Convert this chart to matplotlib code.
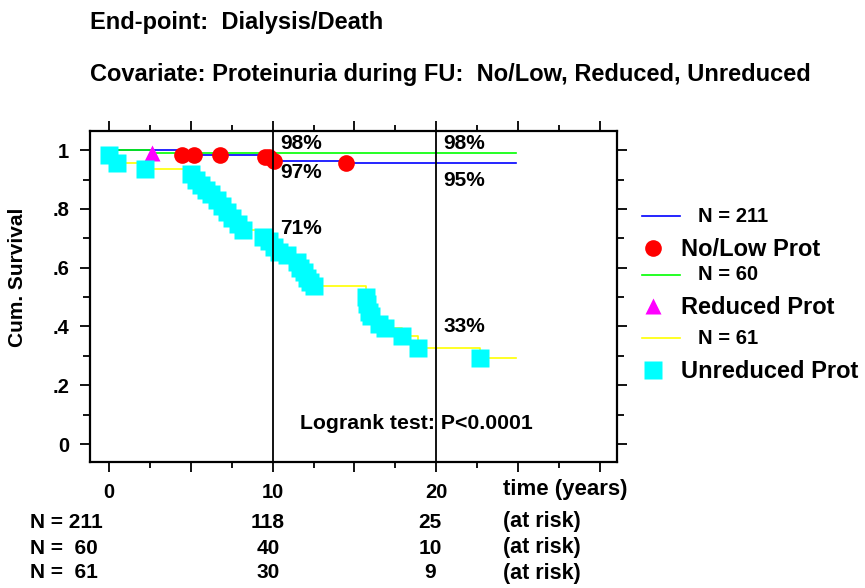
import numpy as np
import matplotlib
matplotlib.use("Agg")
import matplotlib.pyplot as plt
from matplotlib.lines import Line2D

plt.rcParams['font.family'] = ['Liberation Sans', 'DejaVu Sans']
plt.rcParams['font.weight'] = 'bold'

# Kaplan-Meier curves (time in years, cumulative survival)
nolow_t = [0.5, 4.4, 9.5, 10.1, 14.4, 24.9]
nolow_s = [1.0, 0.985, 0.975, 0.962, 0.955, 0.955]
nolow_marks = [4.45, 5.2, 6.75, 9.5, 9.8, 10.1, 14.5]

red_t = [0.5, 2.6, 24.9]
red_s = [1.0, 0.99, 0.99]
red_marks = [2.6]

unred_t = [0.0, 0.5, 2.2, 5.0, 5.3, 5.6, 5.9, 6.2, 6.6, 6.9, 7.2, 7.5, 7.9, 8.2,
           9.4, 9.8, 10.1, 10.4, 10.9, 11.5, 11.7, 11.9, 12.1, 12.3, 12.5,
           15.7, 15.8, 15.9, 16.0, 16.5, 16.9, 17.9, 18.9, 22.7, 24.9]
unred_s = [0.984, 0.955, 0.937, 0.92, 0.90, 0.88, 0.865, 0.85, 0.83, 0.81, 0.79, 0.77, 0.75, 0.728,
           0.706, 0.69, 0.672, 0.655, 0.642, 0.62, 0.60, 0.585, 0.565, 0.55, 0.537,
           0.50, 0.475, 0.45, 0.435, 0.41, 0.396, 0.368, 0.328, 0.293, 0.293]
unred_marks = unred_t[:-1]

pct_x = [10, 10, 10, 20, 20, 20]
pct_txt = ["98%", "97%", "71%", "98%", "95%", "33%"]
pct_y = [1.024, 0.925, 0.735, 1.024, 0.898, 0.401]

group_n = [211, 60, 61]
group_names = ["No/Low Prot", "Reduced Prot", "Unreduced Prot"]
at_risk = [[211, 118, 25], [60, 40, 10], [61, 30, 9]]

line_cols = ['#0000FF', '#00FF00', '#FFFF00']
mark_cols = ['#FF0000', '#FF00FF', '#00FFFF']
mark_shapes = ['o', '^', 's']
mark_sizes = [12, 11, 13]


def surv_at(t_arr, s_arr, t):
    i = np.searchsorted(t_arr, t, side='right') - 1
    return np.array(s_arr)[np.clip(i, 0, len(s_arr) - 1)]


fig = plt.figure(figsize=(8.65, 5.88), dpi=100)
ax = fig.add_axes([90 / 865, 1 - 462 / 588, 527 / 865, 331 / 588])

curves = [(nolow_t, nolow_s, nolow_marks), (red_t, red_s, red_marks), (unred_t, unred_s, unred_marks)]
for k, (t, s, m) in enumerate(curves):
    ax.step(t, s, where='post', color=line_cols[k], lw=1.2, zorder=2)
for k, (t, s, m) in enumerate(curves):
    ax.plot(m, surv_at(t, s, m), ls='none', marker=mark_shapes[k], ms=mark_sizes[k],
            color=mark_cols[k], mec='none', zorder=3)

for xv in [10, 20]:
    ax.axvline(xv, color='black', lw=1.3, zorder=4)

for xv, txt, yv in zip(pct_x, pct_txt, pct_y):
    ax.text(xv + 0.45, yv, txt, fontsize=15, va='center', ha='left', zorder=5)

ax.text(11.7, 0.071, "Logrank test: P<0.0001", fontsize=15.3, va='center', ha='left', zorder=5)

ax.set_xlim(-1.18, 31.07)
ax.set_ylim(-0.061, 1.065)
ax.set_xticks([0, 5, 10, 15, 20, 25, 30])
ax.set_xticks([2.5, 7.5, 12.5, 17.5, 22.5, 27.5], minor=True)
ax.set_xticklabels(["0", "", "10", "", "20", "", ""])
ax.set_yticks([0, 0.2, 0.4, 0.6, 0.8, 1.0])
ax.set_yticks([0.1, 0.3, 0.5, 0.7, 0.9], minor=True)
ax.set_yticklabels(["0", ".2", ".4", ".6", ".8", "1"])
ax.tick_params(which='both', direction='out', top=True, right=True, width=1.3, labelsize=14.5)
ax.tick_params(which='major', length=7, pad=8)
ax.tick_params(which='minor', length=4)
ax.tick_params(axis='y', which='minor', length=5)
for sp in ax.spines.values():
    sp.set_linewidth(1.6)

fig.text(18 / 865, 1 - 277 / 588, "Cum. Survival", rotation=90, fontsize=15,
         va='center', ha='center')
fig.text(503 / 865, 1 - 490 / 588, "time (years)", fontsize=16, va='center', ha='left')

fig.text(90 / 865, 1 - 22 / 588, "End-point:  Dialysis/Death", fontsize=17, va='center', ha='left')
fig.text(90 / 865, 1 - 74 / 588, "Covariate: Proteinuria during FU:  No/Low, Reduced, Unreduced",
         fontsize=17, va='center', ha='left')

# legend drawn by hand
leg_y = [[216, 248], [275, 306], [338, 370]]
for k in range(3):
    yl, ym = leg_y[k]
    fig.add_artist(Line2D([642 / 865, 680 / 865], [1 - yl / 588] * 2, color=line_cols[k], lw=1.2))
    fig.text(698 / 865, 1 - yl / 588, "N = %d" % group_n[k], fontsize=14.5, va='center', ha='left')
    fig.add_artist(Line2D([653 / 865], [1 - ym / 588], ls='none', marker=mark_shapes[k],
                          ms=mark_sizes[k], color=mark_cols[k], mec='none'))
    fig.text(681 / 865, 1 - (ym + 2) / 588, group_names[k], fontsize=17, va='center', ha='left')

# numbers at risk
row_y = [522, 548, 573]
col_x = [268, 430]
for r in range(3):
    yy = 1 - row_y[r] / 588
    lab = "N = %d" % at_risk[r][0] if at_risk[r][0] >= 100 else "N =  %d" % at_risk[r][0]
    fig.text(30 / 865, yy, lab, fontsize=15, va='center', ha='left')
    for c in range(2):
        fig.text(col_x[c] / 865, yy, str(at_risk[r][c + 1]), fontsize=15, va='center', ha='center')
    fig.text(503 / 865, yy, "(at risk)", fontsize=15.5, va='center', ha='left')

fig.savefig("out.png", dpi=100)
